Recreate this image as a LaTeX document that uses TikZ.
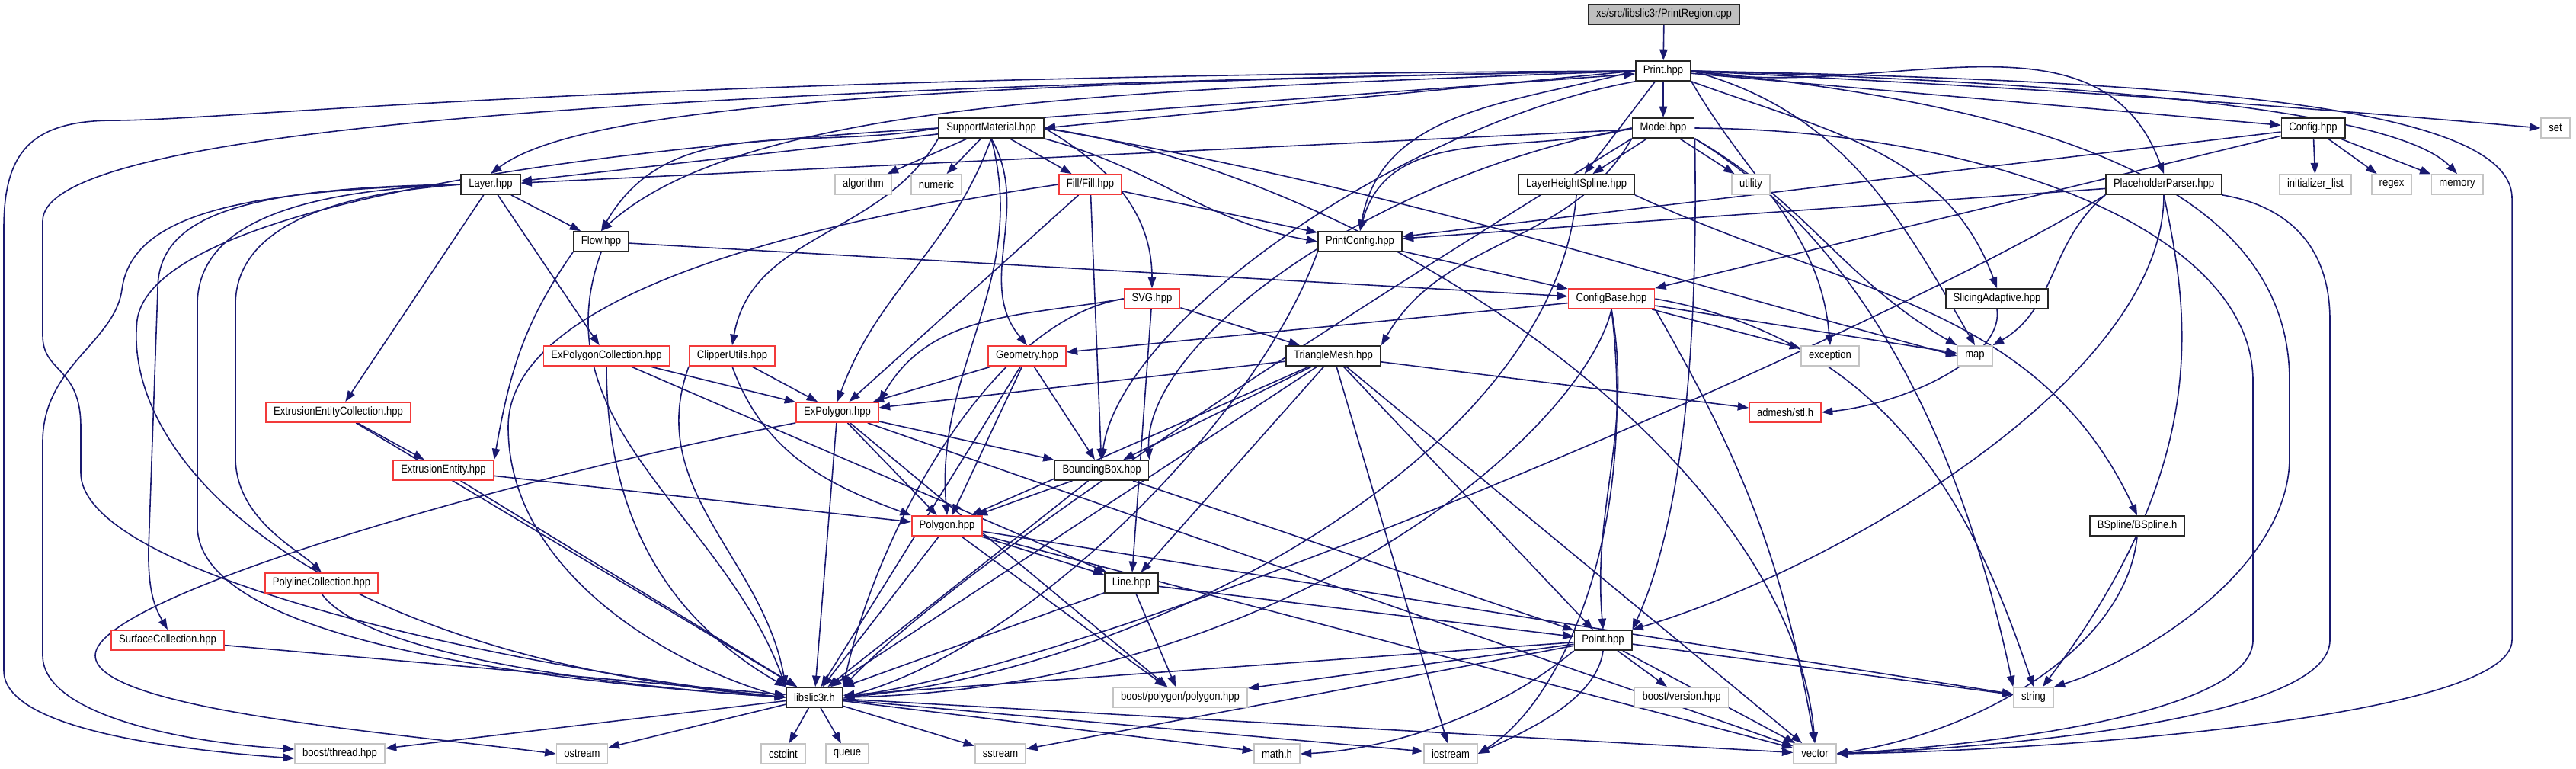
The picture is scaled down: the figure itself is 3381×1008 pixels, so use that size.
\documentclass[tikz,border=0pt]{standalone}
\usepackage{fontspec}
\newfontfamily\graphfont[FakeStretch=0.87]{Liberation Sans}
\usetikzlibrary{arrows.meta,backgrounds}
\definecolor{edgeblue}{HTML}{191970}
\definecolor{truncred}{HTML}{F23A3A}
\definecolor{sysgray}{HTML}{C4C4C4}

\begin{document}
\begin{tikzpicture}[x=0.25pt,y=-0.25pt,>={Triangle[length=3.6pt,width=2.6pt]},
  hdr/.style={draw=black!85,fill=white,line width=0.45pt,minimum height=6.5pt,inner xsep=2.5pt,inner ysep=0pt,font=\graphfont\fontsize{3.75}{4.5}\selectfont},
  trunc/.style={hdr,draw=truncred},
  sys/.style={hdr,draw=sysgray},
  rootfile/.style={hdr,fill=black!25},
  edge/.style={->,draw=edgeblue,line width=0.4pt}]
\useasboundingbox (0,0) rectangle (3381,1008);
\node[rootfile] (root) at (2184,19) {xs/src/libslic3r/PrintRegion.cpp};
\node[hdr] (print) at (2183,93) {Print.hpp};
\node[hdr] (model) at (2183,168) {Model.hpp};
\node[hdr] (supp) at (1301,168) {SupportMaterial.hpp};
\node[hdr] (config) at (3036,168) {Config.hpp};
\node[sys] (set) at (3354,168) {set};
\node[hdr] (layer) at (644,242) {Layer.hpp};
\node[sys] (algorithm) at (1133,242) {algorithm};
\node[sys] (numeric) at (1229,242) {numeric};
\node[trunc] (fill) at (1431,242) {Fill/Fill.hpp};
\node[hdr] (lhs) at (2069,242) {LayerHeightSpline.hpp};
\node[sys] (utility) at (2298,242) {utility};
\node[hdr] (pph) at (2840,242) {PlaceholderParser.hpp};
\node[sys] (initlist) at (3039,242) {initializer\_list};
\node[sys] (regex) at (3139,242) {regex};
\node[sys] (memory) at (3225,242) {memory};
\node[hdr] (flow) at (789,317) {Flow.hpp};
\node[hdr] (printconfig) at (1785,317) {PrintConfig.hpp};
\node[trunc] (configbase) at (2115,392) {ConfigBase.hpp};
\node[trunc] (svg) at (1512,392) {SVG.hpp};
\node[hdr] (slicing) at (2621,392) {SlicingAdaptive.hpp};
\node[trunc] (expcoll) at (796,467) {ExPolygonCollection.hpp};
\node[trunc] (clipper) at (961,467) {ClipperUtils.hpp};
\node[trunc] (geometry) at (1348,467) {Geometry.hpp};
\node[hdr] (tmesh) at (1750,467) {TriangleMesh.hpp};
\node[sys] (exception) at (2402,467) {exception};
\node[sys] (map) at (2592,467) {map};
\node[trunc] (eecoll) at (444,541) {ExtrusionEntityCollection.hpp};
\node[trunc] (expoly) at (1099,541) {ExPolygon.hpp};
\node[trunc] (admesh) at (2343,541) {admesh/stl.h};
\node[trunc] (ee) at (582,617) {ExtrusionEntity.hpp};
\node[hdr] (bbox) at (1446,617) {BoundingBox.hpp};
\node[trunc] (polygon) at (1243,690) {Polygon.hpp};
\node[hdr] (bspline) at (2805,690) {BSpline/BSpline.h};
\node[trunc] (polycoll) at (422,765) {PolylineCollection.hpp};
\node[hdr] (line) at (1485,765) {Line.hpp};
\node[trunc] (surfcoll) at (220,840) {SurfaceCollection.hpp};
\node[hdr] (point) at (2104,840) {Point.hpp};
\node[hdr] (libslic3r) at (1069,915) {libslic3r.h};
\node[sys] (bpoly) at (1549,915) {boost/polygon/polygon.hpp};
\node[sys] (bversion) at (2207,915) {boost/version.hpp};
\node[sys] (string) at (2669,915) {string};
\node[sys] (bthread) at (446,989) {boost/thread.hpp};
\node[sys] (ostream) at (764,989) {ostream};
\node[sys] (cstdint) at (1028,989) {cstdint};
\node[sys] (queue) at (1112,989) {queue};
\node[sys] (sstream) at (1313,989) {sstream};
\node[sys] (mathh) at (1676,989) {math.h};
\node[sys] (iostream) at (1904,989) {iostream};
\node[sys] (vector) at (2382,989) {vector};
\begin{scope}[on background layer]
\foreach \a/\b in {root/print,print/model,print/lhs,print/config,model/lhs,model/utility,model/layer,
  supp/algorithm,supp/numeric,supp/fill,supp/layer,layer/flow,layer/eecoll,layer/expcoll,
  flow/configbase,fill/printconfig,fill/bbox,fill/expoly,pph/printconfig,config/configbase,
  config/printconfig,config/initlist,config/regex,config/memory,printconfig/configbase,
  configbase/geometry,configbase/exception,configbase/map,svg/tmesh,svg/line,expcoll/expoly,
  expcoll/line,clipper/expoly,geometry/expoly,geometry/polygon,geometry/bbox,geometry/libslic3r,
  tmesh/expoly,tmesh/bbox,tmesh/polygon,tmesh/line,tmesh/point,tmesh/admesh,tmesh/libslic3r,
  tmesh/iostream,tmesh/vector,eecoll/ee,eecoll/libslic3r,ee/polygon,ee/libslic3r,expoly/bbox,
  expoly/polygon,expoly/libslic3r,expoly/vector,expoly/bpoly,bbox/polygon,bbox/point,
  bbox/libslic3r,polygon/line,polygon/libslic3r,polygon/bpoly,polygon/vector,polygon/string,
  surfcoll/libslic3r,line/point,line/libslic3r,line/bpoly,point/libslic3r,point/bpoly,
  point/bversion,point/string,point/vector,point/sstream,libslic3r/cstdint,libslic3r/queue,
  libslic3r/sstream,libslic3r/mathh,libslic3r/ostream,libslic3r/iostream,libslic3r/vector,
  libslic3r/bthread}
  \draw[edge] (\a) -- (\b);
\draw[edge] (print.west) -- (supp.east);
\draw[edge] (supp.north east) -- ([yshift=-1pt]print.west);
\draw[edge] (print.west) .. controls (1200,110) and (760,140) .. (layer.north);
\draw[edge] (print.west) .. controls (1500,118) and (980,130) .. (flow.north);
\draw[edge] (print.south west) .. controls (1850,160) and (1470,420) .. (bbox.north);
\draw[edge] (print.west) to[out=195,in=80] (printconfig.north);
\draw[edge] (print.east) .. controls (2800,110) and (3150,150) .. (memory.north);
\draw[edge] (print.east) to[out=-10,in=110] (pph.north);
\draw[edge] (print.south east) to[out=-20,in=110] (slicing.north);
\draw[edge] (print.south east) to[out=-60,in=95] (exception.north);
\draw[edge] (print.east) to[out=-15,in=120] (map.north);
\draw[edge] (print.east) to[out=-3,in=175] (set.west);
\draw[edge] (print.east) .. controls (2800,105) and (3297,130) .. (3297,260) -- (3297,840) .. controls (3297,940) and (2700,985) .. (vector.east);
\draw[edge] (print.east) .. controls (2700,140) and (3005,250) .. (3005,500) -- (3005,600) .. controls (3005,750) and (2800,870) .. (string.north east);
\draw[edge] (print.west) .. controls (700,118) and (56,180) .. (56,290) -- (56,440) .. controls (56,490) and (106,480) .. (106,560) -- (106,620) .. controls (106,760) and (700,880) .. (libslic3r.west);
\draw[edge] (print.west) .. controls (800,100) and (300,158) .. (150,158) .. controls (40,158) and (5,200) .. (5,300) -- (5,880) .. controls (5,960) and (250,985) .. ([yshift=-1.5pt]bthread.west);
\draw[edge] (model.west) to[out=195,in=75] (printconfig.north);
\draw[edge] (model.south west) .. controls (1950,300) and (1300,700) .. (libslic3r.north east);
\draw[edge] (model.west) .. controls (1800,230) and (1500,450) .. (bbox.north east);
\draw[edge] (model.south west) to[out=240,in=60] (tmesh.north east);
\draw[edge] (model.south east) .. controls (2230,500) and (2200,700) .. (point.north east);
\draw[edge] (model.south east) to[out=-30,in=150] (map.north west);
\draw[edge] (model.east) .. controls (2600,170) and (2957,300) .. (2957,500) -- (2957,840) .. controls (2957,930) and (2650,975) .. (vector.east);
\draw[edge] (model.south east) .. controls (2500,350) and (2600,700) .. (string.north west);
\draw[edge] (supp.west) to[out=190,in=60] (flow.north);
\draw[edge] (supp.south east) to[out=-15,in=170] (printconfig.west);
\draw[edge] (supp.south) to[out=-60,in=130] (geometry.north);
\draw[edge] (supp.south west) to[out=240,in=80] (clipper.north);
\draw[edge] (supp.east) to[out=-30,in=90] (svg.north);
\draw[edge] (supp.south) to[out=250,in=70] (expoly.north);
\draw[edge] (supp.south) to[out=-75,in=95] (polygon.north);
\draw[edge] (supp.east) to[out=-10,in=165] (map.west);
\draw[edge] (supp.east) .. controls (1800,230) and (2350,600) .. (vector.north);
\draw[edge] (supp.west) .. controls (700,200) and (200,280) .. (180,420) .. controls (160,600) and (400,860) .. (libslic3r.west);
\draw[edge] (layer.west) .. controls (320,250) and (173,280) .. (160,380) .. controls (150,450) and (56,480) .. (56,580) -- (56,860) .. controls (56,940) and (250,975) .. ([yshift=1.5pt]bthread.west);
\draw[edge] (layer.west) .. controls (300,246) and (207,290) .. (207,380) -- (195,720) .. controls (194,780) and (205,800) .. (surfcoll.north);
\draw[edge] (layer.west) .. controls (400,250) and (259,290) .. (259,400) -- (259,690) .. controls (259,800) and (500,880) .. (libslic3r.west);
\draw[edge] (layer.west) .. controls (430,255) and (309,300) .. (309,400) -- (309,600) .. controls (309,680) and (390,720) .. (polycoll.north);
\draw[edge] (flow.south west) to[out=235,in=80] (ee.north east);
\draw[edge] (flow.south) to[out=250,in=110] (libslic3r.north west);
\draw[edge] (fill.west) .. controls (1000,300) and (667,400) .. (667,560) .. controls (667,760) and (900,880) .. (libslic3r.west);
\draw[edge] (lhs.south) .. controls (2040,600) and (1500,880) .. (libslic3r.east);
\draw[edge] (lhs.south east) to[out=-25,in=115] (bspline.north);
\draw[edge] (pph.south west) .. controls (2500,420) and (1500,860) .. (libslic3r.east);
\draw[edge] (pph.south) .. controls (2840,500) and (2400,750) .. (point.north east);
\draw[edge] (pph.south) .. controls (2870,400) and (2910,600) .. ([xshift=3pt]string.north);
\draw[edge] (pph.south west) to[out=220,in=30] (map.north east);
\draw[edge] (pph.south east) .. controls (3000,270) and (3058,320) .. (3058,420) -- (3058,840) .. controls (3058,940) and (2650,980) .. (vector.east);
\draw[edge] (printconfig.south west) .. controls (1650,550) and (1350,850) .. (libslic3r.east);
\draw[edge] (configbase.south) to[out=-80,in=95] (point.north);
\draw[edge] (configbase.south) .. controls (2080,560) and (1700,900) .. (libslic3r.east);
\draw[edge] (configbase.east) .. controls (2500,450) and (2600,700) .. (string.north);
\draw[edge] (configbase.south east) to[out=-60,in=100] (vector.north);
\draw[edge] (configbase.south) .. controls (2150,700) and (2050,920) .. (iostream.east);
\draw[edge] (svg.west) to[out=190,in=60] (expoly.north east);
\draw[edge] (svg.west) .. controls (1300,420) and (1150,700) .. (libslic3r.north east);
\draw[edge] (slicing.south) .. controls (2630,470) and (2500,530) .. (admesh.east);
\draw[edge] (clipper.south) to[out=-70,in=160] (polygon.north west);
\draw[edge] (clipper.south west) to[out=250,in=100] (libslic3r.north west);
\draw[edge] (expcoll.south) to[out=-90,in=150] (libslic3r.north west);
\draw[edge] (expoly.south west) .. controls (700,620) and (125,780) .. (125,860) .. controls (125,930) and (500,960) .. (ostream.west);
\draw[edge] (bspline.south) .. controls (2790,850) and (2600,960) .. (vector.east);
\draw[edge] (polycoll.south) .. controls (480,860) and (800,900) .. (libslic3r.west);
\draw[edge] (point.south) .. controls (2095,920) and (2000,960) .. (iostream.east);
\draw[edge] (point.south west) .. controls (1950,950) and (1800,985) .. (mathh.east);
\end{scope}
\end{tikzpicture}
\end{document}
